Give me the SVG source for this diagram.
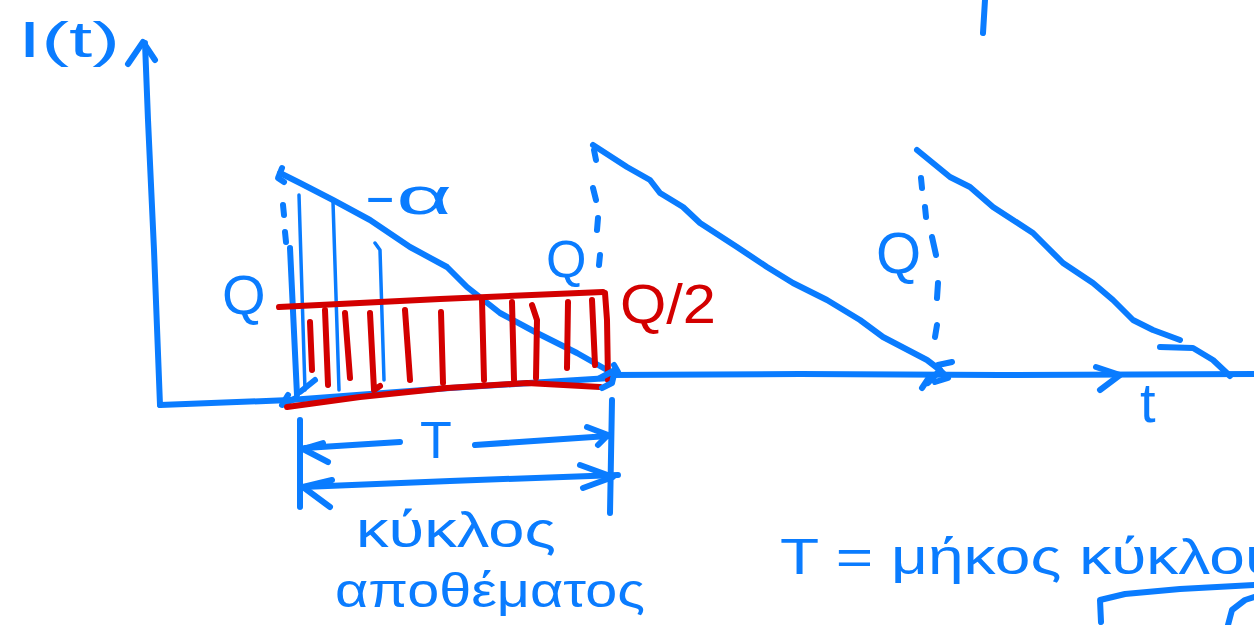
<svg xmlns="http://www.w3.org/2000/svg" width="1254" height="625" viewBox="0 0 1254 625">
<style>
.b{fill:none;stroke:#0a7cff;stroke-width:6;stroke-linecap:round;stroke-linejoin:round}
.bt{fill:none;stroke:#0a7cff;stroke-width:3.5;stroke-linecap:round;stroke-linejoin:round}
.r{fill:none;stroke:#d30000;stroke-width:6;stroke-linecap:round;stroke-linejoin:round}
.tb{fill:#0a7cff;font-family:"Liberation Sans","DejaVu Sans",sans-serif}
.tr{fill:#d30000;font-family:"Liberation Sans","DejaVu Sans",sans-serif}
</style>
<rect width="1254" height="625" fill="#ffffff"/>
<g id="axes">
<path class="b" d="M160,405 L154,250 L148,120 L145,43"/>
<path class="b" d="M128,64 L143,42 L155,60"/>
<path class="b" d="M160,405 L290,400"/>
<path class="b" d="M290,400 L450,388 L610,378"/>
<path class="b" d="M610,375 L800,374 L1000,375 L1254,374"/>
<path class="b" d="M1096,367 L1120,375 L1100,390"/>
</g>
<g id="triangle1">
<path class="b" d="M280,173 L300,183 L333,200 L370,220 L410,247 L447,267 L467,287 L500,313 L537,333 L577,353 L607,370"/>
<path class="b" d="M282,168 L278,178 L284,182"/>
<path class="b" d="M283,205 L284,215 M285,232 L286,242"/>
<path class="b" d="M290,248 L297,395"/>
<path class="bt" d="M299,195 L305,390"/>
<path class="bt" d="M333,202 L339,390"/>
<path class="bt" d="M375,243 L380,250 L384,380"/>
<path class="b" d="M288,395 L282,405 L296,398 M300,392 L315,380"/>
</g>
<g id="area">
<path class="r" d="M279,307 L440,299 L603,292"/>
<path class="r" d="M287,407 L360,397 L447,388 L527,383 L600,387"/>
<path class="r" d="M605,293 L607,320 L608,380"/>
<path class="r" d="M310,322 L312,370 M325,310 L328,385 M345,313 L350,378 M370,313 L374,390 L380,386 M405,310 L410,380 M441,312 L443,383 M482,300 L484,380 M512,302 L514,380 M532,305 L537,320 L536,378 M568,302 L567,368 M592,300 L595,365"/>
</g>
<g id="end1">
<path class="b" d="M600,378 L615,370 L612,383 L602,388 M614,365 L618,372"/>
</g>
<g id="triangle2">
<path class="b" d="M593,145 L627,167 L650,180 L660,193 L683,207 L700,223 L737,247 L767,267 L793,283 L827,300 L860,320 L883,337 L927,360 L940,370"/>
<path class="b" d="M594,150 L596,160 M593,188 L596,200 M598,218 L597,230 M600,255 L599,265"/>
<path class="b" d="M928,383 L940,370 L948,378 L935,382 M922,388 L930,376 M938,365 L952,362"/>
</g>
<g id="triangle3">
<path class="b" d="M917,150 L950,177 L970,187 L993,207 L1013,220 L1033,233 L1047,247 L1063,263 L1093,283 L1113,300 L1133,320 L1153,330 L1180,340"/>
<path class="b" d="M1160,347 L1193,348 L1213,360 L1230,376"/>
<path class="b" d="M921,178 L922,188 M925,207 L926,217 M932,237 L936,255 M938,283 L937,298 M937,325 L935,337"/>
</g>
<g id="dimension">
<path class="b" d="M300,420 L300,507"/>
<path class="b" d="M612,400 L610,513"/>
<path class="b" d="M305,448 L400,442"/>
<path class="b" d="M475,445 L608,436"/>
<path class="b" d="M323,443 L303,449 L328,462"/>
<path class="b" d="M587,427 L608,435 L598,445"/>
<path class="b" d="M303,487 L450,481 L618,475"/>
<path class="b" d="M332,480 L303,487 L330,507"/>
<path class="b" d="M580,465 L613,477 L583,488"/>
</g>
<g id="extras">
<path class="b" d="M985,0 L983,33"/>
<path class="b" d="M1101,622 L1100,600 L1125,594 L1180,589 L1254,585"/>
<path class="b" d="M1228,625 L1232,610 L1245,600 L1254,597"/>
</g>
<g id="labels">
<text class="tb" x="18" y="57" font-size="50" textLength="102" lengthAdjust="spacingAndGlyphs">I(t)</text>
<text class="tb" x="364" y="214" font-size="52" textLength="88" lengthAdjust="spacingAndGlyphs">-α</text>
<text class="tb" x="222" y="314" font-size="56">Q</text>
<text class="tb" x="546" y="277" font-size="52">Q</text>
<text class="tr" x="620" y="323" font-size="56" textLength="96" lengthAdjust="spacingAndGlyphs">Q/2</text>
<text class="tb" x="876" y="273" font-size="58">Q</text>
<text class="tb" x="420" y="458" font-size="52">T</text>
<text class="tb" x="1140" y="422" font-size="56">t</text>
<text class="tb" x="356" y="547" font-size="50" textLength="200" lengthAdjust="spacingAndGlyphs">κύκλος</text>
<text class="tb" x="335" y="607" font-size="48" textLength="310" lengthAdjust="spacingAndGlyphs">αποθέματος</text>
<text class="tb" x="780" y="574" font-size="50" textLength="500" lengthAdjust="spacingAndGlyphs">T = μήκος κύκλου</text>
</g>
</svg>
